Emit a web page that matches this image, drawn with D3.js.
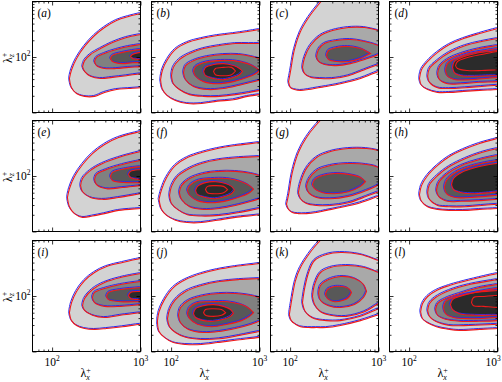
<!DOCTYPE html>
<html>
<head>
<meta charset="utf-8">
<script src="https://cdnjs.cloudflare.com/ajax/libs/d3/7.8.5/d3.min.js"></script>
<style>
  body { margin: 0; background: #fff; }
  svg { display: block; }
  text { fill: #000; }
</style>
</head>
<body>
<svg id="chart" width="502" height="382" font-family="Liberation Serif, DejaVu Serif, serif"></svg>
<script>
// axis ranges and ticks
const xDomain = [60, 1000];
const zDomain = [10, 1000];
const xMajor = [100, 1000];
const xMinor = [70, 80, 90, 200, 300, 400, 500, 600, 700, 800, 900];
const zMajor = [10, 100, 1000];
const zMinor = [20, 30, 40, 50, 60, 70, 80, 90, 200, 300, 400, 500, 600, 700, 800, 900];
const xLabelTicks = [100, 1000];
const zLabelTicks = [100];

const panelLabels = ["a", "b", "c", "d", "e", "f", "g", "h", "i", "j", "k", "l"];
const shades = ["#d3d3d3", "#a9a9a9", "#808080", "#585858", "#2b2b2b"];

// each contour level: [lambda_x, lambda_z low, lambda_z high]
const levelsA = [
  [[157, 41, 41], [166, 28, 59], [189, 22, 94], [233, 19.5, 155], [302, 19.5, 244], [392, 23, 340], [535, 26, 455], [732, 27, 537], [1000, 28, 608], [1370, 29.5, 690]],
  [[221, 67, 67], [233, 55, 86], [272, 45, 111], [353, 41, 142], [482, 43, 182], [695, 46, 225], [1000, 50, 254], [1370, 52, 276]],
  [[302, 83, 83], [318, 70, 98], [392, 62, 116], [535, 62, 137], [732, 65, 155], [1000, 67, 168], [1370, 70, 182]],
  [[458, 94, 94], [482, 83, 107], [626, 76, 121], [812, 79, 131], [1000, 79, 137], [1370, 80, 142]],
  [[771, 102, 102], [812, 94, 111], [1000, 90, 121], [1370, 88, 126]]
];
const shadeA = [0, 1, 2, 3, 4];

const levelsB = [
  [[76, 39, 39], [80, 26, 59], [91, 20, 90], [112, 16.5, 137], [153, 14.5, 182], [221, 14.5, 215], [335, 16, 244], [508, 17, 265], [732, 19.5, 288], [1000, 21, 313], [1370, 23, 340]],
  [[101, 46, 46], [106, 33, 65], [124, 26, 90], [162, 21, 116], [233, 19.5, 142], [353, 19.5, 161], [535, 21, 175], [771, 23, 175], [1000, 25, 175], [1370, 27, 175]],
  [[138, 52, 52], [146, 39, 70], [179, 29.5, 86], [258, 26, 102], [392, 27, 111], [594, 31, 111], [812, 35, 102], [1000, 38, 94], [1370, 43, 83]],
  [[179, 55, 55], [189, 45, 67], [233, 36, 79], [335, 33, 86], [508, 36, 86], [732, 43, 76], [901, 50, 65], [1000, 57, 57]],
  [[233, 55, 55], [245, 46, 65], [302, 41, 73], [392, 39, 76], [508, 43, 70], [594, 48, 62], [643, 55, 55]],
  [[302, 55, 55], [318, 48, 62], [392, 46, 65], [482, 48, 65], [535, 56, 56]]
];
const shadeB = [0, 1, 2, 3, 4, 4];

const levelsC = [
  [[96, 36, 36], [101, 28, 55], [112, 26, 137], [131, 25, 288], [162, 26, 515], [210, 28, 883], [258, 29.5, 1280], [372, 33, 1860], [626, 41, 2290], [1000, 55, 2290], [1370, 65, 2290]],
  [[138, 65, 65], [146, 50, 98], [170, 43, 161], [221, 41, 244], [302, 41, 300], [458, 46, 340], [695, 59, 340], [1000, 73, 300], [1370, 86, 265]],
  [[199, 102, 102], [210, 83, 137], [245, 73, 175], [335, 70, 198], [482, 76, 207], [695, 90, 190], [1000, 111, 161], [1230, 137, 137]],
  [[258, 107, 107], [272, 90, 131], [335, 83, 148], [458, 83, 155], [626, 94, 142], [771, 111, 121], [812, 116, 116]]
];
const shadeC = [0, 1, 2, 3];

const levelsD = [
  [[131, 41, 41], [138, 31, 59], [162, 26, 83], [210, 23, 121], [286, 23, 168], [413, 24, 215], [626, 25, 265], [1000, 26, 326], [1370, 27, 370]],
  [[162, 45, 45], [170, 35, 62], [210, 28, 86], [286, 27, 121], [435, 28, 161], [660, 29.5, 190], [1000, 31, 215], [1370, 32, 234]],
  [[210, 50, 50], [221, 39, 67], [272, 33, 90], [392, 33, 116], [626, 35, 142], [1000, 36, 161], [1370, 38, 175]],
  [[258, 57, 57], [272, 45, 76], [335, 39, 94], [482, 39, 116], [732, 41, 131], [1000, 43, 142], [1370, 45, 148]],
  [[310, 65, 65], [326, 52, 83], [392, 46, 98], [564, 45, 116], [812, 46, 126], [1000, 46, 131], [1370, 48, 137]],
  [[335, 70, 70], [353, 62, 83], [458, 57, 98], [660, 57, 111], [1000, 59, 126], [1370, 59, 131]]
];
const shadeD = [0, 1, 2, 3, 4, 4];

const levelsE = [
  [[149, 41, 41], [157, 28, 59], [179, 21, 98], [221, 18, 161], [286, 19, 254], [392, 21, 370], [564, 24, 494], [1000, 26, 634], [1370, 27, 718]],
  [[210, 67, 67], [221, 52, 90], [272, 41, 126], [372, 38, 168], [564, 41, 215], [1000, 48, 276], [1370, 52, 313]],
  [[302, 86, 86], [318, 70, 107], [413, 59, 131], [626, 62, 161], [1000, 67, 190], [1370, 70, 207]],
  [[458, 98, 98], [482, 83, 116], [695, 76, 137], [1000, 76, 148], [1370, 76, 155]],
  [[732, 107, 107], [771, 94, 121], [1000, 86, 131], [1370, 83, 137]]
];
const shadeE = [0, 1, 2, 3, 4];

const levelsF = [
  [[73, 38, 38], [78, 25, 57], [89, 19.5, 94], [112, 16, 155], [153, 14.5, 215], [221, 14.5, 265], [335, 16, 313], [535, 18, 355], [1000, 20, 402], [1370, 22, 436]],
  [[96, 45, 45], [101, 32, 65], [118, 25, 98], [153, 20, 131], [221, 19, 168], [353, 19.5, 198], [594, 22, 215], [1000, 26, 225], [1370, 28, 234]],
  [[124, 50, 50], [131, 38, 67], [162, 28, 90], [233, 25, 111], [353, 26, 121], [535, 29.5, 121], [812, 35, 111], [1000, 39, 102], [1370, 45, 90]],
  [[153, 55, 55], [162, 45, 67], [199, 36, 83], [286, 33, 90], [435, 36, 90], [626, 43, 79], [771, 50, 67], [856, 58, 58]],
  [[189, 55, 55], [199, 46, 65], [245, 41, 76], [318, 39, 79], [413, 43, 73], [482, 48, 65], [521, 56, 56]],
  [[245, 57, 57], [258, 50, 65], [318, 48, 67], [392, 50, 65], [435, 57, 57]]
];
const shadeF = [0, 1, 2, 3, 4, 4];

const levelsG = [
  [[91, 31, 31], [96, 25, 46], [106, 22, 116], [124, 21, 265], [153, 21, 494], [199, 22, 847], [258, 24, 1280], [372, 27, 1860], [626, 33, 2290], [1000, 43, 2290], [1370, 50, 2290]],
  [[124, 50, 50], [131, 39, 76], [153, 32, 137], [199, 29.5, 215], [286, 29.5, 276], [458, 33, 313], [732, 43, 313], [1000, 52, 288], [1370, 62, 254]],
  [[153, 65, 65], [162, 50, 86], [199, 41, 126], [286, 39, 155], [458, 43, 168], [732, 55, 161], [1000, 70, 142], [1230, 102, 102]],
  [[179, 70, 70], [189, 59, 86], [233, 50, 102], [318, 48, 111], [458, 52, 107], [626, 65, 94], [713, 79, 79]]
];
const shadeG = [0, 1, 2, 3];

const levelsH = [
  [[131, 46, 46], [138, 35, 67], [162, 28, 102], [210, 25, 155], [286, 24, 225], [413, 24, 300], [626, 25, 386], [1000, 26, 474], [1370, 27, 537]],
  [[162, 50, 50], [170, 38, 70], [210, 29.5, 102], [286, 28, 148], [435, 28, 207], [660, 29.5, 265], [1000, 31, 313], [1370, 32, 340]],
  [[204, 55, 55], [216, 43, 76], [272, 35, 111], [392, 35, 155], [626, 36, 198], [1000, 38, 234], [1370, 39, 254]],
  [[251, 62, 62], [265, 48, 83], [335, 41, 116], [482, 41, 148], [732, 43, 175], [1000, 45, 190], [1370, 46, 207]],
  [[302, 70, 70], [318, 57, 90], [392, 50, 116], [564, 48, 142], [812, 50, 161], [1000, 52, 168], [1370, 55, 175]]
];
const shadeH = [0, 1, 2, 3, 4];

const levelsI = [
  [[157, 50, 50], [166, 36, 76], [189, 29.5, 121], [233, 26, 190], [302, 25, 265], [413, 26, 340], [626, 28, 402], [1000, 31, 474], [1370, 32, 515]],
  [[221, 67, 67], [233, 55, 90], [286, 45, 131], [392, 41, 175], [594, 45, 215], [1000, 50, 254], [1370, 52, 276]],
  [[286, 94, 94], [302, 76, 116], [392, 65, 137], [594, 65, 161], [1000, 70, 182], [1370, 73, 190]],
  [[413, 98, 98], [435, 86, 116], [594, 79, 131], [1000, 79, 142], [1370, 79, 148]],
  [[732, 102, 102], [771, 90, 116], [1000, 86, 121], [1370, 86, 121]]
];
const shadeI = [0, 1, 2, 3, 4];

const levelsJ = [
  [[70, 35, 35], [73, 23, 52], [84, 18, 86], [106, 14.5, 142], [146, 13.4, 198], [221, 13.4, 254], [335, 14.5, 300], [535, 16, 340], [1000, 18, 386], [1370, 19.5, 418]],
  [[91, 39, 39], [96, 28, 57], [112, 22, 86], [146, 18, 121], [221, 16.5, 155], [353, 17, 182], [594, 19.5, 198], [1000, 23, 207], [1370, 25, 215]],
  [[121, 45, 45], [128, 33, 62], [157, 25, 83], [233, 22, 102], [353, 23, 111], [535, 26, 111], [812, 31, 102], [1000, 35, 94], [1370, 39, 83]],
  [[153, 48, 48], [162, 39, 62], [199, 31, 76], [286, 28, 79], [435, 31, 79], [626, 36, 70], [771, 43, 59], [856, 50, 50]],
  [[179, 48, 48], [189, 41, 59], [233, 36, 67], [302, 35, 70], [392, 38, 65], [470, 43, 57], [508, 49, 49]],
  [[233, 50, 50], [245, 45, 57], [302, 43, 59], [372, 45, 57], [413, 50, 50]]
];
const shadeJ = [0, 1, 2, 3, 4, 4];

const levelsK = [
  [[98, 46, 46], [103, 36, 76], [115, 31, 190], [131, 28, 327], [162, 27, 560], [199, 27, 847], [258, 27, 1280], [372, 29.5, 1860], [626, 36, 2290], [1000, 46, 2290], [1370, 55, 2290]],
  [[138, 76, 76], [146, 55, 137], [162, 45, 265], [189, 39, 436], [258, 36, 560], [372, 36, 608], [626, 43, 560], [1000, 59, 436], [1370, 70, 370]],
  [[179, 98, 98], [189, 70, 161], [221, 52, 265], [286, 45, 327], [435, 43, 355], [695, 52, 327], [1000, 73, 265], [1370, 94, 225]],
  [[210, 111, 111], [221, 83, 155], [272, 67, 198], [372, 62, 225], [535, 70, 207], [677, 94, 161], [732, 121, 121]],
  [[251, 107, 107], [265, 90, 131], [318, 79, 148], [392, 83, 148], [458, 94, 137], [495, 116, 116]]
];
const shadeK = [0, 0, 1, 2, 3];

const levelsL = [
  [[135, 52, 52], [142, 39, 73], [162, 33, 98], [204, 28, 126], [286, 25, 155], [372, 24, 175], [626, 25, 215], [1000, 26, 254], [1370, 27, 276]],
  [[162, 55, 55], [170, 43, 73], [199, 35, 94], [286, 29.5, 126], [482, 29.5, 161], [1000, 31, 198], [1370, 32, 215]],
  [[199, 57, 57], [210, 45, 73], [258, 38, 90], [372, 35, 111], [626, 35, 142], [1000, 36, 161], [1370, 38, 175]],
  [[245, 62, 62], [258, 48, 79], [318, 41, 94], [482, 39, 111], [1000, 41, 137], [1370, 43, 142]],
  [[294, 70, 70], [310, 57, 86], [372, 48, 98], [564, 45, 116], [1000, 45, 126], [1370, 45, 131]],
  [[508, 76, 76], [535, 67, 94], [695, 65, 98], [1000, 62, 102], [1370, 62, 102]]
];
const shadeL = [0, 1, 2, 3, 4, 4];

const panels = [
  { levels: levelsA, shade: shadeA }, { levels: levelsB, shade: shadeB },
  { levels: levelsC, shade: shadeC }, { levels: levelsD, shade: shadeD },
  { levels: levelsE, shade: shadeE }, { levels: levelsF, shade: shadeF },
  { levels: levelsG, shade: shadeG }, { levels: levelsH, shade: shadeH },
  { levels: levelsI, shade: shadeI }, { levels: levelsJ, shade: shadeJ },
  { levels: levelsK, shade: shadeK }, { levels: levelsL, shade: shadeL }
];

const width = 502;
const pw = 108, ph = 111;
const colLeft = [32.5, 151.5, 270.5, 389.5];
const rowTop = [1.5, 120.5, 240.5];
const blue = "#2a2af0";
const red = "#f01a1a";

const svg = d3.select("#chart");

const x = d3.scaleLog().domain(xDomain).range([0, pw]);
const y = d3.scaleLog().domain(zDomain).range([ph, 0]);

const area = d3.area()
    .x(d => x(d[0]))
    .y0(d => y(d[1]))
    .y1(d => y(d[2]))
    .curve(d3.curveCatmullRom.alpha(0.5));

// "10" with a superscript exponent
function powerLabel(sel, exp) {
    sel.append("tspan").text("10");
    sel.append("tspan").attr("dy", -5).attr("font-size", 7.5).text(exp);
}

// lambda with stacked + and subscript
function lambdaLabel(sel, sub) {
    sel.append("tspan").text("λ");
    sel.append("tspan").attr("dy", -4.5).attr("font-size", 8).text("+");
    sel.append("tspan").attr("dx", -4.6).attr("dy", 7).attr("font-size", 8)
        .attr("font-style", "italic").text(sub);
}

panels.forEach((p, i) => {
    const col = i % 4, row = Math.floor(i / 4);
    const g = svg.append("g").attr("transform", `translate(${colLeft[col]},${rowTop[row]})`);

    g.append("clipPath").attr("id", "clip" + i)
        .append("rect").attr("width", pw).attr("height", ph);

    const body = g.append("g").attr("clip-path", `url(#clip${i})`);

    // gray filled contours
    p.levels.forEach((lv, k) => {
        body.append("path").attr("d", area(lv)).attr("fill", shades[p.shade[k]]);
    });

    // blue contour lines
    p.levels.slice(0, 5).forEach(lv => {
        body.append("path").attr("d", area(lv))
            .attr("fill", "none").attr("stroke", blue).attr("stroke-width", 1)
            .attr("transform", "translate(-0.9,-0.9)");
    });

    // red contour lines
    p.levels.forEach(lv => {
        body.append("path").attr("d", area(lv))
            .attr("fill", "none").attr("stroke", red).attr("stroke-width", 1.1);
    });

    // inward ticks on all sides
    const tickAxes = [
        [d3.axisBottom(x), `translate(0,${ph})`, xMajor, xMinor],
        [d3.axisTop(x), "translate(0,0)", xMajor, xMinor],
        [d3.axisLeft(y), "translate(0,0)", zMajor, zMinor],
        [d3.axisRight(y), `translate(${pw},0)`, zMajor, zMinor]
    ];
    tickAxes.forEach(([ax, tr, major, minor]) => {
        const a1 = g.append("g").attr("transform", tr)
            .call(ax.tickValues(major).tickSize(-4).tickSizeOuter(0).tickFormat(""));
        a1.select(".domain").remove();
        const a2 = g.append("g").attr("transform", tr)
            .call(ax.tickValues(minor).tickSize(-2).tickSizeOuter(0).tickFormat(""));
        a2.select(".domain").remove();
    });
    g.selectAll(".tick line").attr("stroke", "#000").attr("stroke-width", 0.8);

    g.append("rect").attr("width", pw).attr("height", ph)
        .attr("fill", "none").attr("stroke", "#000").attr("stroke-width", 1);

    // panel label
    const lab = g.append("text").attr("x", 5).attr("y", 15).attr("font-size", 11.5);
    lab.append("tspan").text("(");
    lab.append("tspan").attr("font-style", "italic").text(panelLabels[i]);
    lab.append("tspan").text(")");

    if (col === 0) {
        zLabelTicks.forEach(t => {
            const tx = g.append("text").attr("x", -2).attr("y", y(t) + 4)
                .attr("text-anchor", "end").attr("font-size", 11.5);
            powerLabel(tx, Math.round(Math.log10(t)));
        });
        const yl = g.append("text")
            .attr("transform", `translate(-21,${y(100) + 6}) rotate(-90)`)
            .attr("font-size", 12);
        lambdaLabel(yl, "z");
    }

    if (row === 2) {
        xLabelTicks.forEach(t => {
            const tx = g.append("text").attr("x", x(t)).attr("y", ph + 14)
                .attr("text-anchor", "middle").attr("font-size", 11.5);
            powerLabel(tx, Math.round(Math.log10(t)));
            // keep the label inside the picture
            const b = tx.node().getBBox();
            const over = colLeft[col] + b.x + b.width - (width - 1);
            if (over > 0) tx.attr("x", x(t) - over);
        });
        const xl = g.append("text").attr("x", pw / 2 - 6).attr("y", ph + 25.5)
            .attr("font-size", 12);
        lambdaLabel(xl, "x");
    }
});
</script>
</body>
</html>
